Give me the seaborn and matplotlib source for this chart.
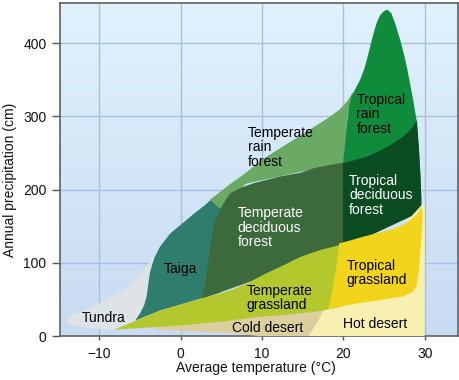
import numpy as np
import matplotlib.pyplot as plt
import matplotlib.colors as mcolors
import seaborn as sns

# biome outlines: temperature (°C) / annual precipitation (cm)
tundra_t = [-14.1, -13.9, -13.3, -12.0, -10.7, -8.7, -6.6, -5.5, -4.2, -3.3, -2.7, -2.3, -2.5, -4.0, -8.3, -10.8, -12.4, -13.6]
tundra_p = [20, 24, 29, 34, 41, 53, 67, 78, 95, 110, 120, 110, 60, 20, 7.5, 10.5, 12.5, 15]

taiga_t = [-5.6, -5.0, -4.5, -4.2, -4.0, -3.8, -3.5, -3.2, -2.55, -1.3, 0.0, 1.5, 3.0, 4.2, 5.0, 5.0, 2.4, -2.5]
taiga_p = [21, 31, 42, 54, 70, 86, 98, 108, 122, 140, 152, 166, 179, 191, 185, 60, 51, 35]

temp_rain_t = [3.6, 6, 8, 10, 12, 14, 16, 18, 19.5, 20.5, 21.2, 20.5, 20.2, 20, 15, 8, 4.8]
temp_rain_p = [186, 207, 223, 241, 255, 269, 283, 297, 309, 321, 334, 300, 260, 236, 225, 208, 174]

temp_decid_t = [2.4, 2.7, 3.0, 3.3, 3.6, 3.9, 4.2, 4.7, 5.3, 6.1, 7.5, 8.9, 10.5, 12.2, 14.7, 16.3, 18, 20.1, 20.1, 10]
temp_decid_p = [50, 56, 70, 95, 120, 142, 158, 170, 182, 195, 203, 208.6, 213, 218, 223, 229, 233, 237, 120, 80]

trop_rain_t = [19.95, 20.2, 20.4, 20.7, 21.0, 21.5, 22.1, 22.6, 22.9, 23.4, 23.7, 24.1, 24.5, 25.0, 25.4,
               25.9, 26.4, 27.0, 27.5, 27.8, 28.2, 28.6, 29.0, 29.3, 29.5, 29.6, 20.0]
trop_rain_p = [236, 262, 286, 312, 328, 338, 351, 366, 378, 400, 413, 428, 438, 444, 446,
               441, 426, 404, 383, 368, 345, 322, 295, 255, 215, 185, 150]

trop_decid_t = [19.95, 19.95, 21.5, 22.9, 24.5, 26.1, 27.3, 28.2, 28.8, 29.05, 29.3, 29.5, 29.6, 29.6]
trop_decid_p = [120, 236, 240.5, 245, 253, 263, 272, 281, 290, 295, 255, 215, 185, 170]

hot_desert_t = [14, 14, 18.6, 29.55, 29.8, 30, 30]
hot_desert_p = [0, 30, 45, 178, 180.5, 178, 0]

cold_desert_t = [-3, 0, 3, 6, 8, 9.5, 15.7, 16.2, 16.7, 17.1, 17.5, 17.8, 5, -3]
cold_desert_p = [9, 7, 5.5, 4, 2, 0, 0, 8, 17, 25, 34.6, 38, 22, 13]

temp_grass_t = [-8.3, -7, -5.6, -4, -2.5, 0, 2.4, 4.5, 6.5, 8.5, 10.6, 12.7, 14.7, 17, 19.8,
                19.8, 18.1, 17.5, 15.9, 12.5, 9.8, 4.8, 0, -4]
temp_grass_p = [8.5, 14, 20.5, 28, 35, 43, 51, 57, 64, 74, 86, 97, 108, 117, 125,
                40, 36.5, 34.6, 32.5, 28.5, 26.4, 19.5, 14.5, 11.5]

trop_grass_t = [19.5, 21, 22.4, 24, 25.7, 27, 28.2, 29.1, 29.6, 29.75, 29.7, 29.5, 29.3, 29.0,
                28.5, 27.3, 24.5, 22, 20.4, 19, 18.1, 18.2, 18.6, 19.1]
trop_grass_p = [126.6, 131, 135.6, 140, 145, 150, 158, 167, 176.6, 170, 150, 120, 90, 68,
                60, 54, 49, 45, 42, 39, 36, 40, 60, 90]

biome_names = ["Tundra", "Taiga", "Temperate\nrain\nforest", "Temperate\ndeciduous\nforest",
               "Tropical\nrain\nforest", "Tropical\ndeciduous\nforest", "Hot desert", "Cold desert",
               "Temperate\ngrassland", "Tropical\ngrassland"]

x_ticks = [-10, 0, 10, 20, 30]
y_ticks = [0, 100, 200, 300, 400]

sns.set_theme(style="white")
plt.rcParams['font.family'] = ['Liberation Sans', 'DejaVu Sans']

outlines = [
    (tundra_t, tundra_p, "#dde3e7"),
    (taiga_t, taiga_p, "#2f7e6d"),
    (temp_rain_t, temp_rain_p, "#6aaa64"),
    (temp_decid_t, temp_decid_p, "#3c6a3d"),
    (trop_rain_t, trop_rain_p, "#0f8b3b"),
    (trop_decid_t, trop_decid_p, "#0a4b22"),
    (hot_desert_t, hot_desert_p, "#f8f0b1"),
    (cold_desert_t, cold_desert_p, "#dccf9f"),
    (temp_grass_t, temp_grass_p, "#b3c82d"),
    (trop_grass_t, trop_grass_p, "#f2d51a"),
]

# label anchors (left edge, vertical centre) and text colours
label_spots = [(-12.2, 24), (-2.05, 91), (8.3, 258), (7.0, 148), (21.6, 303),
               (20.7, 192), (20.0, 16.5), (6.3, 10.8), (8.1, 52), (20.4, 86)]
label_colors = ["black", "black", "black", "white", "black",
                "white", "black", "black", "black", "black"]

fig = plt.figure(figsize=(4.6, 3.8), dpi=100)
ax = fig.add_axes([60 / 460, 44 / 380, 398 / 460, 333 / 380])
xlim = (-14.85, 34.1)
ylim = (0, 455)

# pale blue backdrop, lighter at the top
grad = np.linspace(0, 1, 256)[:, None]
cmap = mcolors.LinearSegmentedColormap.from_list("bg", ["#c8dbf2", "#e0f2fc"])
ax.imshow(grad, cmap=cmap, aspect="auto", origin="lower",
          extent=[xlim[0], xlim[1], ylim[0], ylim[1]], zorder=0)

for i, (t, p, c) in enumerate(outlines):
    ax.fill(t, p, color=c, linewidth=0, zorder=2 + i)

for name, (tx, py), col in zip(biome_names, label_spots, label_colors):
    ax.text(tx, py, name, color=col, fontsize=10, ha="left", va="center",
            linespacing=1.05, zorder=20)

ax.set_xlim(*xlim)
ax.set_ylim(*ylim)
ax.set_xticks(x_ticks)
ax.set_yticks(y_ticks)
ax.set_axisbelow(True)
ax.grid(True, color="#a9bfe2", linewidth=1, zorder=1)
ax.tick_params(axis="x", direction="out", length=3, width=1, color="#555555",
               labelsize=10, labelcolor="#111111", pad=5, bottom=True)
ax.tick_params(axis="y", direction="out", length=5.5, width=1, color="#555555",
               labelsize=10, labelcolor="#111111", pad=4.3, left=True)
for s in ax.spines.values():
    s.set_color("#606060")
    s.set_linewidth(1.2)

ax.set_xlabel("Average temperature (°C)", fontsize=10, color="#111111")
ax.set_ylabel("Annual precipitation (cm)", fontsize=10, color="#111111")
ax.xaxis.set_label_coords(0.492, -0.075)
ax.yaxis.set_label_coords(-0.108, 0.47)

fig.savefig("out.png", dpi=100)
